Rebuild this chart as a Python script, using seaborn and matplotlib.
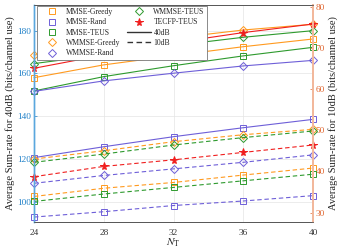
import matplotlib
matplotlib.use("Agg")
import matplotlib.pyplot as plt
from matplotlib.lines import Line2D
import seaborn as sns

# ---------------- data ----------------
NT = [24, 28, 32, 36, 40]
labels = ["MMSE-Greedy", "MMSE-Rand", "MMSE-TEUS", "WMMSE-Greedy",
          "WMMSE-Rand", "WMMSE-TEUS", "TECFP-TEUS"]

# 40 dB (left axis)
mmse_greedy_40 = [158.0, 164.0, 168.3, 172.5, 176.1]
mmse_rand_40 = [120.6, 125.7, 130.4, 134.6, 138.5]
mmse_teus_40 = [151.8, 158.5, 163.6, 168.2, 172.2]
wmmse_greedy_40 = [168.6, 172.4, 176.5, 180.3, 183.0]
wmmse_rand_40 = [151.6, 156.5, 160.1, 163.5, 166.1]
wmmse_teus_40 = [164.6, 168.8, 173.0, 176.9, 180.0]
tecfp_teus_40 = [162.4, 168.6, 174.3, 179.1, 183.1]

# 10 dB (right axis)
mmse_greedy_10 = [33.9, 35.9, 37.3, 39.1, 40.8]
mmse_rand_10 = [28.9, 30.2, 31.7, 32.8, 34.1]
mmse_teus_10 = [32.7, 34.5, 36.1, 37.7, 39.3]
wmmse_greedy_10 = [43.0, 45.0, 47.2, 48.9, 50.2]
wmmse_rand_10 = [37.1, 39.0, 40.6, 42.2, 44.0]
wmmse_teus_10 = [42.2, 44.2, 46.4, 48.2, 49.8]
tecfp_teus_10 = [38.7, 41.2, 42.8, 44.6, 46.4]

left_ticks = [100, 120, 140, 160, 180]
right_ticks = [30, 40, 50, 60, 70, 80]

series40 = [mmse_greedy_40, mmse_rand_40, mmse_teus_40, wmmse_greedy_40,
            wmmse_rand_40, wmmse_teus_40, tecfp_teus_40]
series10 = [mmse_greedy_10, mmse_rand_10, mmse_teus_10, wmmse_greedy_10,
            wmmse_rand_10, wmmse_teus_10, tecfp_teus_10]

# ---------------- style ----------------
sns.set_style("white")
plt.rcParams["font.family"] = ["Liberation Serif", "DejaVu Serif"]
plt.rcParams["mathtext.fontset"] = "stix"

ORANGE = "#FF9A1F"
PURPLE = "#6E5FD8"
GREEN = "#2E9A2E"
RED = "#F01E1E"
colors = [ORANGE, PURPLE, GREEN, ORANGE, PURPLE, GREEN, RED]
markers = ["s", "s", "s", "D", "D", "D", "*"]
msizes = [4.3, 4.3, 4.3, 3.9, 3.9, 3.9, 5.8]
LBLUE = "#1F80C8"
LORANGE = "#E0652E"

fig = plt.figure(figsize=(3.46, 2.52), dpi=100)
ax = fig.add_axes([34 / 346, 1 - 222 / 252, (313 - 34) / 346, (222 - 5) / 252])
ax2 = ax.twinx()

for vals, c, m, ms in zip(series40, colors, markers, msizes):
    mfc = c if m == "*" else "none"
    sns.lineplot(x=NT, y=vals, ax=ax, color=c, marker=m, markersize=ms,
                 markerfacecolor=mfc, markeredgecolor=c, markeredgewidth=0.7,
                 linewidth=0.8, linestyle="-", clip_on=False, legend=False)
for vals, c, m, ms in zip(series10, colors, markers, msizes):
    mfc = c if m == "*" else "none"
    sns.lineplot(x=NT, y=vals, ax=ax2, color=c, marker=m, markersize=ms,
                 markerfacecolor=mfc, markeredgecolor=c, markeredgewidth=0.7,
                 linewidth=0.8, linestyle=(0, (4, 2.5)), clip_on=False, legend=False)

ax.set_xlim(24, 40)
ax.set_ylim(90.5, 192.0)
ax2.set_ylim(27.7, 80.4)
ax.set_xticks(NT)
ax.set_yticks(left_ticks)
ax2.set_yticks(right_ticks)

ax.grid(True, color="#E4E4E4", linewidth=0.5)
ax.set_axisbelow(True)
ax2.grid(False)

tfs = 6.7
ax.tick_params(axis="x", direction="in", length=2.5, width=0.5, labelsize=tfs,
               colors="#333333", pad=5)
ax.tick_params(axis="y", direction="in", length=2.5, width=0.5, labelsize=tfs,
               colors=LBLUE, pad=2)
ax2.tick_params(axis="y", direction="in", length=2.5, width=0.5, labelsize=tfs,
                colors=LORANGE, pad=2)

for a in (ax, ax2):
    a.spines["top"].set_color("#555555")
    a.spines["bottom"].set_color("#555555")
    a.spines["top"].set_linewidth(0.6)
    a.spines["bottom"].set_linewidth(0.6)
    a.spines["left"].set_color("#5AA7DE")
    a.spines["left"].set_linewidth(1.0)
    a.spines["right"].set_color("#F2B89C")
    a.spines["right"].set_linewidth(1.4)

lfs = 7.6
ax.set_ylabel("Average Sum-rate for 40dB (bits/channel use)", fontsize=lfs,
              color="#222222", labelpad=1.5)
ax2.set_ylabel("Average Sum-rate for 10dB (bits/channel use)", fontsize=lfs,
               color="#222222", labelpad=2.5)
ax.set_xlabel(r"$N_\mathrm{T}$", fontsize=8, color="#222222", labelpad=0)

handles = []
for lab, c, m, ms in zip(labels, colors, markers, msizes):
    mfc = c if m == "*" else "none"
    handles.append(Line2D([], [], linestyle="none", marker=m, markersize=ms,
                          markerfacecolor=mfc, markeredgecolor=c,
                          markeredgewidth=0.7, label=lab))
handles.append(Line2D([], [], color="#333333", linewidth=1.0, linestyle="-",
                      label="40dB"))
handles.append(Line2D([], [], color="#333333", linewidth=1.0,
                      linestyle=(0, (4, 2.5)), label="10dB"))

leg = ax2.legend(handles=handles, ncol=2, loc="upper left",
                 bbox_to_anchor=(0.011, 0.996), borderaxespad=0,
                 fontsize=5.5, frameon=True, fancybox=False,
                 handlelength=3.2, handletextpad=0.3, columnspacing=0.8,
                 labelspacing=0.3, borderpad=0.3, framealpha=1)
leg.get_frame().set_edgecolor("#777777")
leg.get_frame().set_linewidth(0.6)

fig.savefig("out.png", dpi=100)
